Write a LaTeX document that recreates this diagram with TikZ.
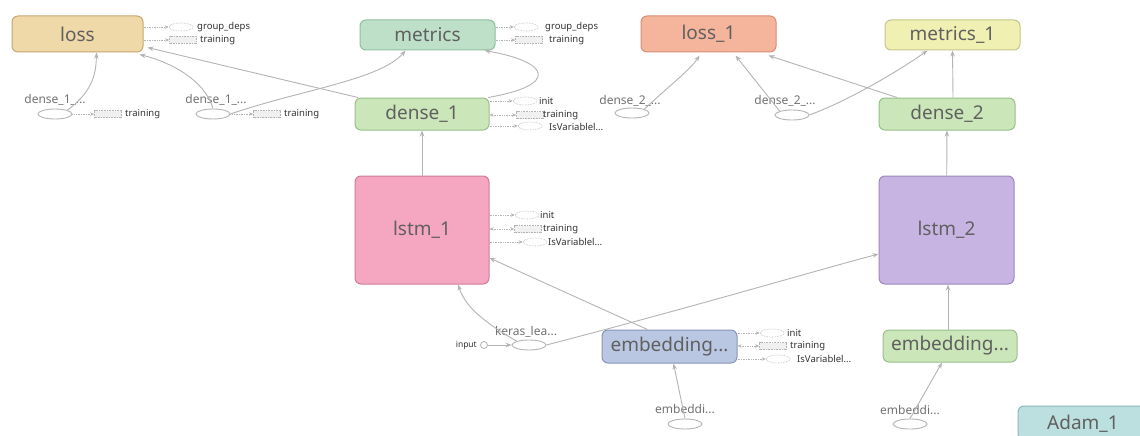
\documentclass[tikz,border=0pt]{standalone}
\usepackage{fontspec}
\setmainfont{Noto Sans}
\usetikzlibrary{arrows.meta,shapes.geometric}
\definecolor{edgec}{HTML}{B4B4B4}
\definecolor{optext}{HTML}{606060}
\definecolor{lossF}{HTML}{F0D9A8}\definecolor{lossD}{HTML}{C8A66E}
\definecolor{metF}{HTML}{BEE0C9}\definecolor{metD}{HTML}{8DBF9E}
\definecolor{loss1F}{HTML}{F5B59C}\definecolor{loss1D}{HTML}{D98E72}
\definecolor{met1F}{HTML}{F0F0B2}\definecolor{met1D}{HTML}{C6C68C}
\definecolor{denF}{HTML}{CBE6B8}\definecolor{denD}{HTML}{98C08A}
\definecolor{lstaF}{HTML}{F5A6C0}\definecolor{lstaD}{HTML}{CF7C99}
\definecolor{lstbF}{HTML}{C7B4E2}\definecolor{lstbD}{HTML}{9C88BE}
\definecolor{embF}{HTML}{B9C7E2}\definecolor{embD}{HTML}{8796B8}
\definecolor{adamF}{HTML}{BCE0DF}\definecolor{adamD}{HTML}{8CB8B8}
\begin{document}
\begin{tikzpicture}[x=1pt,y=-1pt,
  op/.style={draw, rounded corners=6pt, line width=1pt, inner sep=0pt,
    font=\fontsize{19}{19}\selectfont, text=optext},
  sel/.style={draw=edgec, ellipse, minimum width=34pt, minimum height=10pt, inner sep=0pt, line width=0.9pt},
  stubE/.style={draw=edgec, densely dotted, ellipse, minimum width=24pt, minimum height=8pt, inner sep=0pt, line width=0.6pt},
  stubB/.style={draw=edgec, densely dotted, fill=gray!12, minimum width=27pt, minimum height=7pt, inner sep=0pt, line width=0.6pt},
  stubtxt/.style={font=\fontsize{9.5}{9.5}\selectfont, anchor=west, text=black!80, inner sep=0pt},
  lbl/.style={font=\fontsize{12}{12}\selectfont, text=black!55, inner sep=0pt},
  edge/.style={draw=edgec, line width=0.9pt, -{Stealth[length=6pt,width=4.5pt]}},
  sline/.style={draw=edgec, densely dotted, line width=0.7pt, -{Stealth[length=4pt,width=3.5pt]}},
  sline2/.style={draw=edgec, densely dotted, line width=0.7pt, {Stealth[length=4pt,width=3.5pt]}-{Stealth[length=4pt,width=3.5pt]}}
]
\useasboundingbox (0,0) rectangle (1140,436);
\fill[white] (0,0) rectangle (1140,436);
\clip (0,0) rectangle (1140,436);

% main op nodes
\node[op, fill=lossF, draw=lossD, minimum width=131pt, minimum height=36pt] (loss) at (77.5,34) {loss};
\node[op, fill=metF, draw=metD, minimum width=135pt, minimum height=30pt] (metrics) at (427.5,35) {metrics};
\node[op, fill=loss1F, draw=loss1D, minimum width=135pt, minimum height=36pt] (loss1) at (708.5,34) {loss\_1};
\node[op, fill=met1F, draw=met1D, minimum width=135pt, minimum height=30pt] (metrics1) at (952.5,35) {metrics\_1};
\node[op, fill=denF, draw=denD, minimum width=134pt, minimum height=32pt] (dense1) at (422,114) {dense\_1};
\node[op, fill=denF, draw=denD, minimum width=136pt, minimum height=32pt] (dense2) at (947,114) {dense\_2};
\node[op, fill=lstaF, draw=lstaD, minimum width=134pt, minimum height=108pt] (lstm1) at (422,230) {lstm\_1};
\node[op, fill=lstbF, draw=lstbD, minimum width=135pt, minimum height=108pt] (lstm2) at (946.5,230) {lstm\_2};
\node[op, fill=embF, draw=embD, minimum width=135pt, minimum height=33pt] (emb1) at (669.5,346.5) {embedding...};
\node[op, fill=denF, draw=denD, minimum width=134pt, minimum height=32pt] (emb2) at (950,346) {embedding...};
\node[op, fill=adamF, draw=adamD, minimum width=130pt, minimum height=34pt] (adam) at (1083,423) {};
\node[font=\fontsize{19}{19}\selectfont, text=optext, inner sep=0pt] (adamt) at (1083,424) {Adam\_1};

% small ellipse nodes with labels
\node[sel] (d11) at (55,114) {};
\node[lbl] (d11t) at (55,100) {dense\_1\_...};
\node[sel] (d12) at (213,114) {};
\node[lbl] (d12t) at (216,100) {dense\_1\_...};
\node[sel] (d21) at (632,113) {};
\node[lbl] (d21t) at (630,101) {dense\_2\_...};
\node[sel] (d22) at (792,115) {};
\node[lbl] (d22t) at (785,101) {dense\_2\_...};
\node[sel] (kl) at (529,345) {};
\node[lbl] (klt) at (526,332) {keras\_lea...};
\node[draw=edgec, circle, minimum size=7pt, inner sep=0pt, line width=0.8pt] (inp) at (484,345) {};
\node[font=\fontsize{8.5}{8.5}\selectfont, text=black!80, anchor=east, inner sep=0pt] (inpt) at (477,345) {input};
\node[sel] (e1) at (685,424) {};
\node[lbl] (e1t) at (685,409) {embeddi...};
\node[sel] (e2) at (910,424) {};
\node[lbl] (e2t) at (910,410) {embeddi...};

% main edges
\draw[edge] (d11.north east) .. controls (95,90) and (96,70) .. ([xshift=19pt]loss.south);
\draw[edge] (d12.north) .. controls (205,80) and (170,62) .. ([xshift=62pt,yshift=-2pt]loss.south);
\draw[edge] (d12.east) .. controls (300,90) and (380,80) .. ([xshift=-22pt]metrics.south);
\draw[edge] ([xshift=-64pt]dense1.north) -- ([xshift=4pt,yshift=5pt]loss.south east);
\draw[edge] ([xshift=66pt]dense1.north) .. controls (560,85) and (550,62) .. ([xshift=57pt]metrics.south);
\draw[edge] (lstm1) -- (dense1);
\draw[edge] (kl.north west) .. controls (480,320) and (465,305) .. ([xshift=36pt]lstm1.south);
\draw[edge] ([xshift=-22pt]emb1.north) -- ([yshift=-28pt]lstm1.east);
\draw[edge] (kl.east) .. controls (700,305) and (800,275) .. ([yshift=-24pt]lstm2.west);
\draw[edge] (e1.north) -- ([xshift=4pt]emb1.south);
\draw[edge] (e2.north) -- ([xshift=-8pt]emb2.south);
\draw[edge] ([xshift=-2pt]emb2.north) -- ([xshift=1.5pt]lstm2.south);
\draw[edge] (lstm2) -- (dense2);
\draw[edge] ([xshift=6pt]dense2.north) -- (metrics1.south);
\draw[edge] ([xshift=-50pt]dense2.north) -- ([xshift=-8pt,yshift=-3pt]loss1.south east);
\draw[edge] (d22.north west) -- ([xshift=27pt,yshift=-3pt]loss1.south);
\draw[edge] (d22.east) .. controls (850,100) and (900,70) .. ([xshift=-25pt]metrics1.south);
\draw[edge] (d21.north east) .. controls (670,85) and (690,70) .. ([xshift=-9pt,yshift=-3pt]loss1.south);
\draw[edge] (inp) -- (kl);

% stubs: loss
\node[stubE] (lgd) at (181,27) {};
\node[stubtxt] at (197,27) {group\_deps};
\node[stubB] (ltr) at (183,40) {};
\node[stubtxt] at (200,40) {training};
\draw[sline] (loss.east |- lgd) -- (lgd);
\draw[sline] (loss.east |- ltr) -- (ltr);
% stubs: metrics
\node[stubE] (mgd) at (526,27) {};
\node[stubtxt] at (545,27) {group\_deps};
\node[stubB] (mtr) at (529,40) {};
\node[stubtxt] at (549,40) {training};
\draw[sline] (metrics.east |- mgd) -- (mgd);
\draw[sline] (metrics.east |- mtr) -- (mtr);
% stubs: dense_1
\node[stubE] (din) at (525,101) {};
\node[stubtxt] at (539,101) {init};
\node[stubB] (dtr) at (530,115) {};
\node[stubtxt] at (543,115) {training};
\node[stubE] (dvar) at (530,126) {};
\node[stubtxt] at (549,127) {IsVariablel...};
\draw[sline] (dense1.east |- din) -- (din);
\draw[sline2] (dense1.east |- dtr) -- (dtr);
\draw[sline] (dense1.east |- dvar) -- (dvar);
% stubs: lstm_1
\node[stubE] (lin) at (527,215) {};
\node[stubtxt] at (540,215) {init};
\node[stubB] (ltr2) at (528,229) {};
\node[stubtxt] at (543,229) {training};
\node[stubE] (lvar) at (535,242) {};
\node[stubtxt] at (548,242) {IsVariablel...};
\draw[sline] (lstm1.east |- lin) -- (lin);
\draw[sline2] (lstm1.east |- ltr2) -- (ltr2);
\draw[sline] (lstm1.east |- lvar) -- (lvar);
% stubs: embedding
\node[stubE] (ein) at (772,333) {};
\node[stubtxt] at (787,333) {init};
\node[stubB] (etr) at (773,346) {};
\node[stubtxt] at (790,346) {training};
\node[stubE] (evar) at (778,359) {};
\node[stubtxt] at (797,359) {IsVariablel...};
\draw[sline] (emb1.east |- ein) -- (ein);
\draw[sline2] (emb1.east |- etr) -- (etr);
\draw[sline] (emb1.east |- evar) -- (evar);
% stubs: dense_1_ ellipses
\node[stubB] (t1) at (108,114) {};
\node[stubtxt] at (125,114) {training};
\node[stubB] (t2) at (267,114) {};
\node[stubtxt] at (284,114) {training};
\draw[sline] (d11) -- (t1);
\draw[sline] (d12) -- (t2);
\end{tikzpicture}
\end{document}
